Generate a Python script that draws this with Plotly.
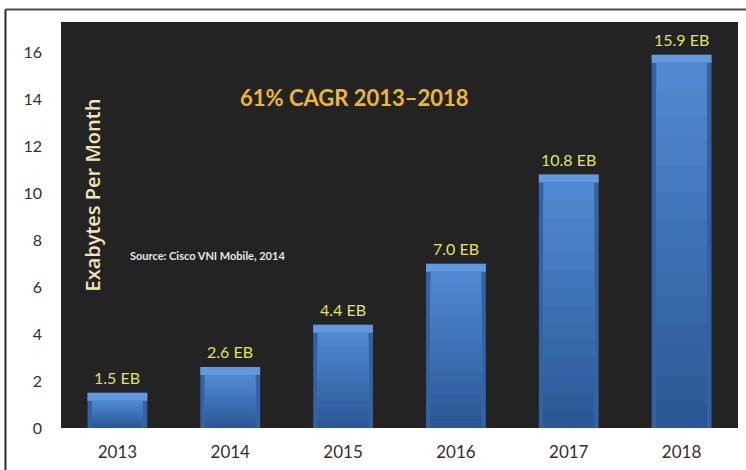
import plotly.graph_objects as go

# Mobile data traffic forecast
years = ["2013", "2014", "2015", "2016", "2017", "2018"]
traffic_eb = [1.5, 2.6, 4.4, 7.0, 10.8, 15.9]
value_labels = ["1.5 EB", "2.6 EB", "4.4 EB", "7.0 EB", "10.8 EB", "15.9 EB"]
y_ticks = [0, 2, 4, 6, 8, 10, 12, 14, 16]

chart_title = "61% CAGR 2013\u20132018"
y_title = "Exabytes Per Month"
source_note = "Source: Cisco VNI Mobile, 2014"

BEVEL = 0.34          # depth of the lit top edge, in data units
OUTER_W = 0.53
INNER_W = 0.45
N_BANDS = 14
TOP_RGB = (80, 137, 210)
BOT_RGB = (42, 88, 150)


def mix(a, b, t):
    return "rgb(%d,%d,%d)" % tuple(round(a[i] + (b[i] - a[i]) * t) for i in range(3))


fig = go.Figure()

# outer body of each bar (shows as the bevelled sides)
fig.add_trace(go.Bar(x=years, y=traffic_eb, width=OUTER_W,
                     marker=dict(color="rgb(50,98,164)", line=dict(width=0)),
                     hoverinfo="skip"))

# lit top edge of each bar
fig.add_trace(go.Bar(x=years, y=[BEVEL] * len(years),
                     base=[v - BEVEL for v in traffic_eb], width=OUTER_W,
                     marker=dict(color="rgb(100,152,220)", line=dict(width=0)),
                     hoverinfo="skip"))

# face of each bar: vertical shading, lighter at the top
for k in range(N_BANDS):
    frac = 1 - k / N_BANDS
    fig.add_trace(go.Bar(x=years, y=[(v - BEVEL) * frac for v in traffic_eb],
                         width=INNER_W,
                         marker=dict(color=mix(TOP_RGB, BOT_RGB, k / (N_BANDS - 1)),
                                     line=dict(width=0)),
                         hoverinfo="skip"))

# value labels above the bars (category axis positions are given by index)
annotations = []
for i, (v, lab) in enumerate(zip(traffic_eb, value_labels)):
    annotations.append(dict(x=i, y=v, xref="x", yref="y", text=lab,
                            showarrow=False, yanchor="bottom", yshift=4,
                            font=dict(family="Lato", size=16, color="#e0e068")))

annotations += [
    dict(x=0.434, y=0.813, xref="paper", yref="paper", text=chart_title,
         showarrow=False, xanchor="center", yanchor="middle",
         font=dict(family="Lato", size=22, color="#eab834", weight="bold")),
    dict(x=0.046, y=0.573, xref="paper", yref="paper", text=y_title,
         showarrow=False, textangle=-90, xanchor="center", yanchor="middle",
         font=dict(family="Open Sans", size=20, color="#f2e3b8", weight=600)),
    dict(x=0.099, y=0.425, xref="paper", yref="paper", text=source_note,
         showarrow=False, xanchor="left", yanchor="middle",
         font=dict(family="Lato", size=11, color="#e6e6e6", weight="bold")),
]

fig.update_layout(
    width=746, height=470,
    margin=dict(l=61, r=8, t=22, b=36),
    paper_bgcolor="white",
    plot_bgcolor="#232323",
    barmode="overlay",
    showlegend=False,
    annotations=annotations,
    shapes=[
        # thin frame around the figure
        dict(type="line", xref="paper", yref="paper", x0=-0.082, x1=1.02,
             y0=1.031, y1=1.031, line=dict(color="#4a4a4a", width=2)),
        dict(type="line", xref="paper", yref="paper", x0=-0.082, x1=-0.082,
             y0=1.031, y1=-0.2, line=dict(color="#2a2a2a", width=2)),
    ],
    xaxis=dict(type="category", range=[-0.5, 5.5], showgrid=False,
               zeroline=False, showline=False, ticks="",
               ticklabelstandoff=12,
               tickfont=dict(family="Lato", size=17, color="#3a2c2c")),
    yaxis=dict(range=[0, 17.3], tickvals=y_ticks, showgrid=False,
               zeroline=False, showline=False, ticks="",
               ticklabelstandoff=18,
               tickfont=dict(family="Lato", size=16, color="#3a2c2c")),
)

fig.write_html("out.html")
